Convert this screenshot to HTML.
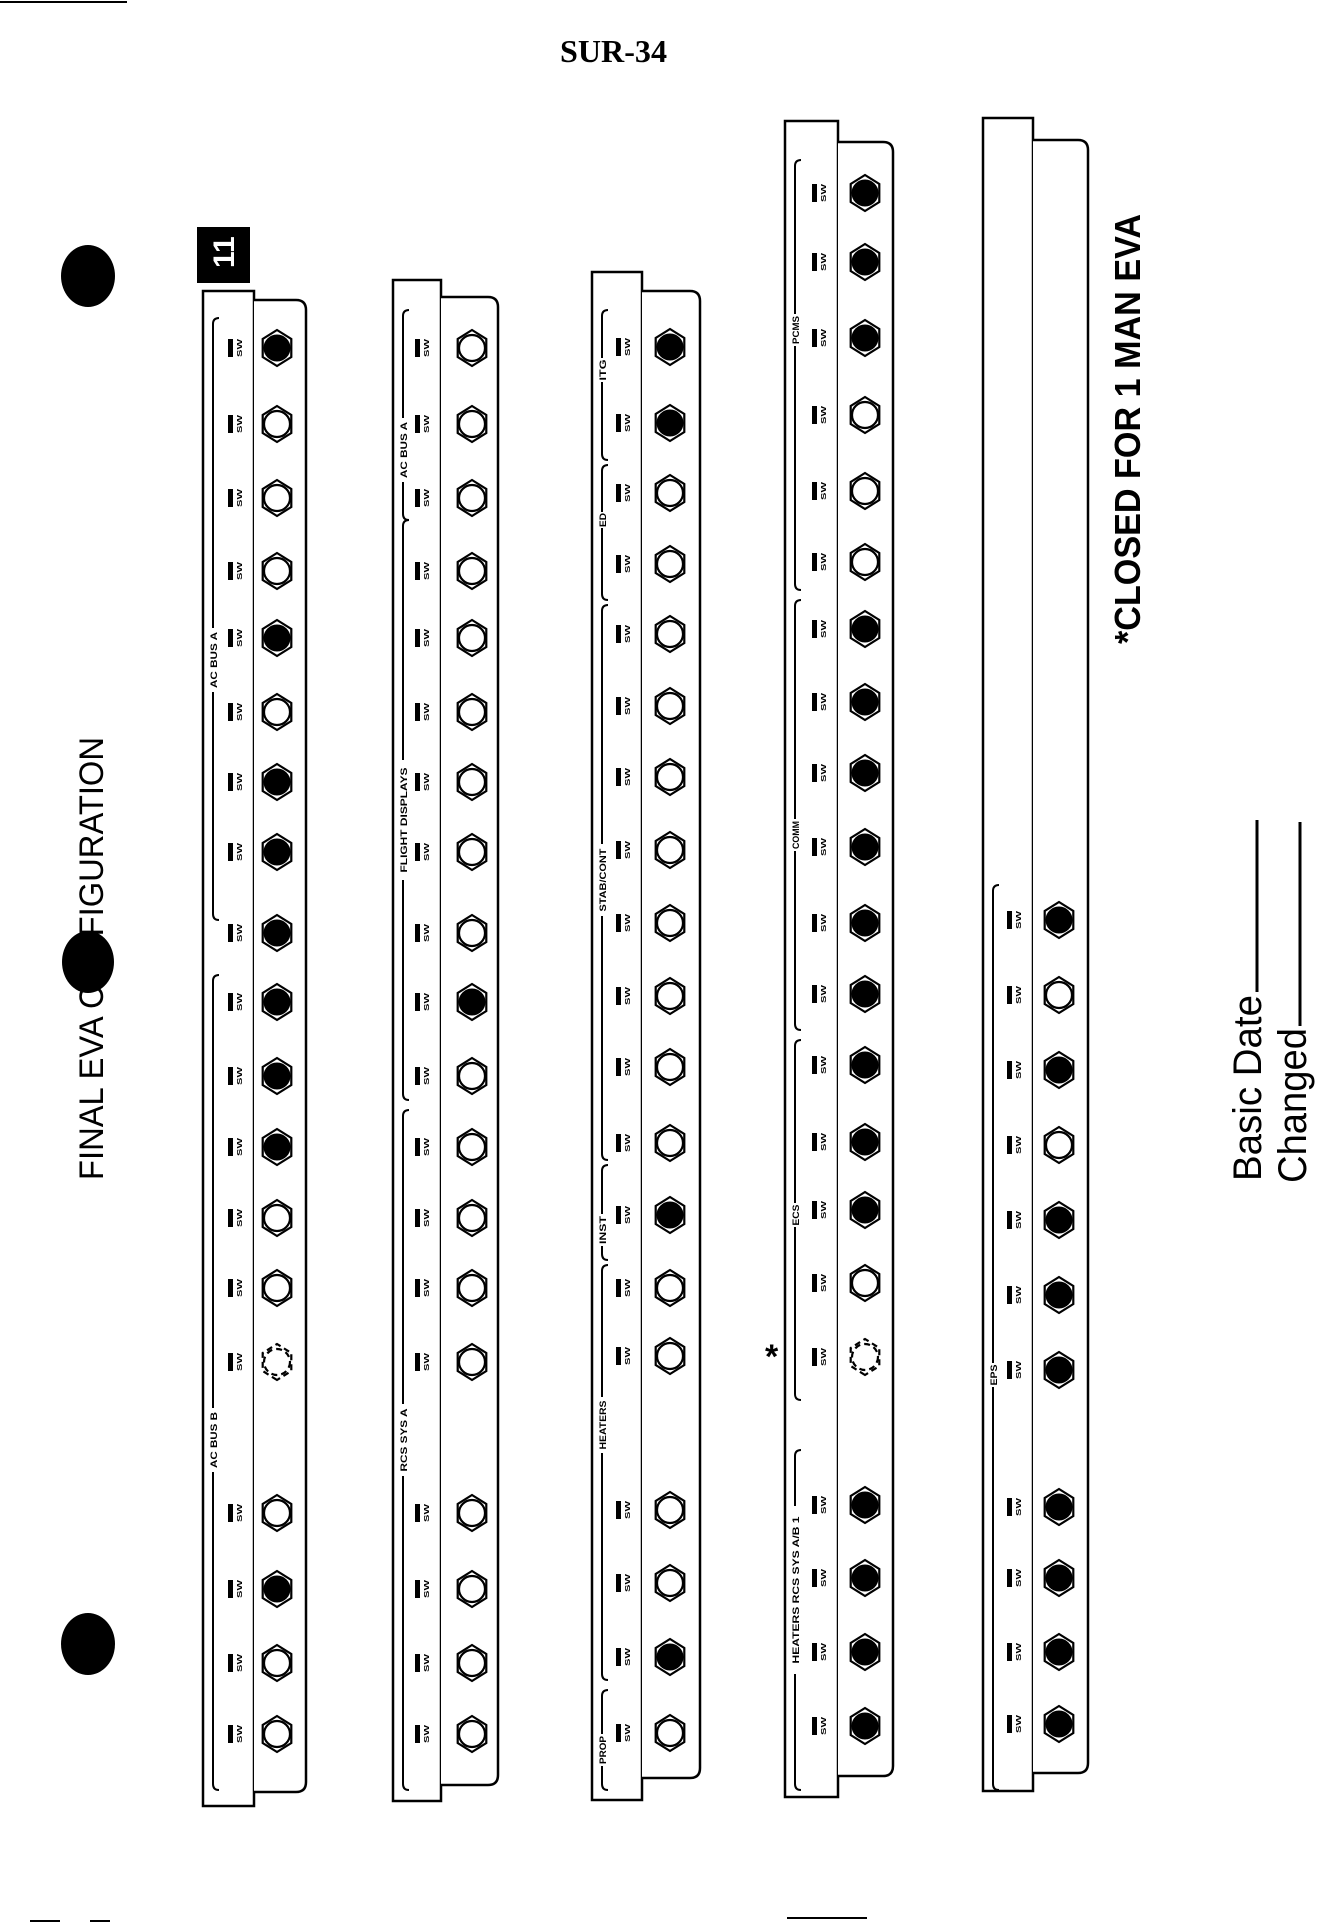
<!DOCTYPE html>
<html><head><meta charset="utf-8"><style>
html,body{margin:0;padding:0;background:#fff;width:1320px;height:1924px;overflow:hidden}
svg{display:block}
</style></head><body>
<svg id="s" width="1320" height="1924" xmlns="http://www.w3.org/2000/svg" font-family="Liberation Sans, sans-serif">
<rect width="1320" height="1924" fill="#fff"/>
<line x1="0" y1="2" x2="127" y2="2" stroke="#000" stroke-width="2"/>
<line x1="787" y1="1918" x2="867" y2="1918" stroke="#000" stroke-width="2"/>
<line x1="30" y1="1921" x2="60" y2="1921" stroke="#000" stroke-width="2"/>
<line x1="90" y1="1921" x2="110" y2="1921" stroke="#000" stroke-width="2"/>
<text x="560" y="62" font-family="Liberation Serif, serif" font-weight="bold" font-size="32" textLength="107" lengthAdjust="spacingAndGlyphs">SUR-34</text>
<text transform="translate(103,1180) rotate(-90)" font-size="34" textLength="443" lengthAdjust="spacingAndGlyphs">FINAL EVA CONFIGURATION</text>
<ellipse cx="88" cy="276" rx="27" ry="31" fill="#000"/>
<ellipse cx="88" cy="962" rx="26" ry="31" fill="#000"/>
<ellipse cx="88" cy="1644" rx="27" ry="31" fill="#000"/>
<text transform="translate(1140,644) rotate(-90)" font-size="36" font-weight="bold" textLength="430" lengthAdjust="spacingAndGlyphs">*CLOSED FOR 1 MAN EVA</text>
<text transform="translate(1261,1181) rotate(-90)" font-size="40" textLength="186" lengthAdjust="spacingAndGlyphs">Basic Date</text>
<line x1="1257" y1="820" x2="1257" y2="992" stroke="#000" stroke-width="3"/>
<text transform="translate(1306,1183) rotate(-90)" font-size="40" textLength="155" lengthAdjust="spacingAndGlyphs">Changed</text>
<line x1="1300" y1="822" x2="1300" y2="1026" stroke="#000" stroke-width="3"/>
<text x="765" y="1368" font-size="34" font-weight="bold">*</text>
<g id="g"></g>
</svg>
<script>
var g=document.getElementById('g'),h='';
function hex(cx,cy,f,dash){
 var r=18,p=[];
 for(var i=0;i<6;i++){var a=Math.PI/2+i*Math.PI/3;p.push((cx+r*Math.cos(a)*0.92).toFixed(1)+','+(cy+r*Math.sin(a)).toFixed(1));}
 var d=dash?' stroke-dasharray="6,4"':'';
 h+='<polygon points="'+p.join(' ')+'" fill="#fff" stroke="#000" stroke-width="2.2"'+d+'/>';
 if(f) h+='<circle cx="'+cx+'" cy="'+cy+'" r="13" fill="#000" stroke="#000" stroke-width="1"/>';
 else h+='<circle cx="'+cx+'" cy="'+cy+'" r="13" fill="#fff" stroke="#000" stroke-width="2.2"'+d+'/>';
}
function panel(o){
 h+='<rect x="'+o.ox+'" y="'+o.ot+'" width="'+(o.ix-o.ox)+'" height="'+(o.ob-o.ot)+'" fill="#fff" stroke="#000" stroke-width="2.5"/>';
 var x=o.ix,y=o.it,w=o.ir-o.ix,b=o.ib,r=10;
 h+='<path d="M'+x+','+y+' L'+(x+w-r)+','+y+' Q'+(x+w)+','+y+' '+(x+w)+','+(y+r)+' L'+(x+w)+','+(b-r)+' Q'+(x+w)+','+b+' '+(x+w-r)+','+b+' L'+x+','+b+'" fill="#fff" stroke="#000" stroke-width="2.5"/>';
 (o.br||[]).forEach(function(q){
  var bx=o.ox+10;
  h+='<path d="M'+(bx+6)+','+q[0]+' Q'+bx+','+q[0]+' '+bx+','+(q[0]+6)+' L'+bx+','+(q[1]-6)+' Q'+bx+','+q[1]+' '+(bx+6)+','+q[1]+'" fill="none" stroke="#000" stroke-width="2"/>';
  if(q[2]){h+='<rect x="'+(bx-5)+'" y="'+(q[3]-q[2].length*4)+'" width="10" height="'+(q[2].length*8)+'" fill="#fff"/>';
   h+='<text transform="translate('+(bx+4)+','+(q[3]+q[2].length*3.5)+') rotate(-90)" font-size="9" font-weight="bold" textLength="'+(q[2].length*7)+'" lengthAdjust="spacingAndGlyphs">'+q[2]+'</text>';}
 });
 var lx=o.ix-14;
 o.c.forEach(function(c,i){
  hex(o.cx,c[0],c[1],c[2]);
  var t=(o.lab&&o.lab[i])||'SW';
  h+='<rect x="'+(lx-12)+'" y="'+(c[0]-9)+'" width="5" height="18" fill="#000"/>';
  h+='<text transform="translate('+(lx+2)+','+(c[0]+9)+') rotate(-90)" font-size="7" font-weight="bold" textLength="18" lengthAdjust="spacingAndGlyphs">'+t+'</text>';
 });
}
function mk(ys,fs){return ys.map(function(y,i){var f=fs[i];return [y,f==='F',f==='D'];});}
var Y1=[348,424,498,571,638,712,782,852,933,1002,1076,1147,1218,1288,1362,1513,1589,1663,1734];
var Y3=[347,423,493,564,634,706,777,850,923,996,1067,1143,1215,1288,1356,1510,1583,1657,1733];
panel({ox:203,ix:254,ir:306,ot:291,ob:1806,it:300,ib:1792,cx:277,
 c:mk(Y1,'FOOOFOFFFFFFOODOFOO'.split('')),
 br:[[318,920,'AC BUS A',660],[975,1790,'AC BUS B',1440]]});
h+='<rect x="197" y="227" width="53" height="56" fill="#000"/><text transform="translate(234,268) rotate(-90)" font-size="30" font-weight="bold" fill="#fff">11</text>';
panel({ox:393,ix:441,ir:498,ot:280,ob:1801,it:297,ib:1785,cx:472,
 c:mk(Y1,'OOOOOOOOOFOOOOOOOOO'.split('')),
 br:[[310,520,'AC BUS A',450],[520,1100,'FLIGHT DISPLAYS',820],[1110,1790,'RCS SYS A',1440]]});
panel({ox:592,ix:642,ir:700,ot:272,ob:1800,it:291,ib:1778,cx:670,
 c:mk(Y3,'FFOOOOOOOOOOFOOOOFO'.split('')),
 br:[[310,460,'ITG',370],[465,600,'ED',520],[605,1160,'STAB/CONT',880],[1165,1260,'INST',1230],[1265,1680,'HEATERS',1425],[1690,1790,'PROP',1750]]});
var Y4=[193,262,338,415,491,562,629,702,773,847,923,994,1065,1142,1210,1283,1357,1505,1578,1652,1726];
panel({ox:785,ix:838,ir:893,ot:121,ob:1797,it:142,ib:1776,cx:865,
 c:mk(Y4,'FFFOOOFFFFFFFFFODFFFF'.split('')),
 br:[[160,590,'PCMS',330],[600,1030,'COMM',835],[1040,1400,'ECS',1215],[1450,1790,'HEATERS RCS SYS A/B 1',1590]]});
var Y5=[920,995,1070,1145,1220,1295,1370,1507,1578,1652,1724];
panel({ox:983,ix:1033,ir:1088,ot:118,ob:1791,it:140,ib:1773,cx:1059,
 c:mk(Y5,'FOFOFFFFFFF'.split('')),
 br:[[885,1790,'EPS',1375]]});
g.innerHTML=h;
</script>
</body></html>
